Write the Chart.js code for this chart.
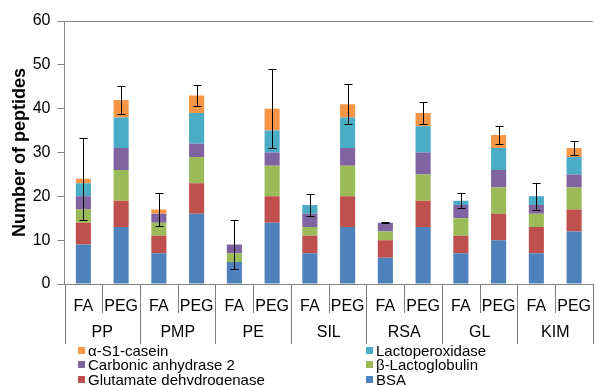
<!DOCTYPE html>
<html>
<head>
<meta charset="utf-8">
<script src="https://cdn.jsdelivr.net/npm/chart.js@4.4.0/dist/chart.umd.min.js"></script>
<style>
    html, body { margin: 0; padding: 0; background: #fff; overflow: hidden; }
    #wrap { position: relative; width: 596px; height: 385px; overflow: hidden; }
    #legend { position: absolute; left: 0; top: 0; font: 15px Arial, "Liberation Sans", sans-serif; color: #000; }
    .item { position: absolute; white-space: nowrap; line-height: 15px; height: 15px; }
    .item i { position: absolute; left: 0; top: 4px; width: 7px; height: 7px; }
    .item span { padding-left: 10px; }
</style>
</head>
<body>
<div id="wrap">
    <canvas id="peptideChart" width="596" height="385"></canvas>
    <div id="legend"></div>
</div>
<script>
/* ===== Datos del gráfico ===== */
const groups = ['PP', 'PMP', 'PE', 'SIL', 'RSA', 'GL', 'KIM'];
const subs = ['FA', 'PEG'];

// valores apilados (de abajo hacia arriba)
const bsa       = [9, 13, 7, 16, 5, 14, 7, 13, 6, 13, 7, 10, 7, 12];
const glutamate = [5, 6, 4, 7, 0, 6, 4, 7, 4, 6, 4, 6, 6, 5];
const lactoglob = [3, 7, 3, 6, 2, 7, 2, 7, 2, 6, 4, 6, 3, 5];
const carbonic  = [3, 5, 2, 3, 2, 3, 3, 4, 2, 5, 3, 4, 2, 3];
const lactoper  = [3, 7, 0, 7, 0, 5, 2, 7, 0, 6, 1, 5, 2, 4];
const casein    = [1, 4, 1, 4, 0, 5, 0, 3, 0, 3, 0, 3, 0, 2];

// barras de error (desviación sobre el total)
const errors = [9.4, 3.2, 3.7, 2.5, 5.5, 9, 2.6, 4.6, 0.1, 2.6, 1.7, 2.1, 3.1, 1.6];

const yTicks = [0, 10, 20, 30, 40, 50, 60];

const labels = [];
groups.forEach(() => subs.forEach(s => labels.push(s)));

const FONT = 'Arial, "Liberation Sans", sans-serif';
Chart.defaults.font.family = FONT;
Chart.defaults.color = '#000';

const series = [
    { label: 'BSA', data: bsa, color: '#4F81BD' },
    { label: 'Glutamate dehydrogenase', data: glutamate, color: '#C0504D' },
    { label: 'β-Lactoglobulin', data: lactoglob, color: '#9BBB59' },
    { label: 'Carbonic anhydrase 2', data: carbonic, color: '#8064A2' },
    { label: 'Lactoperoxidase', data: lactoper, color: '#4BACC6' },
    { label: 'α-S1-casein', data: casein, color: '#F79646' }
];

// Barras de error sobre el total de cada columna
const errorBarPlugin = {
    id: 'errorBars',
    afterDatasetsDraw(chart) {
        const { ctx, scales: { x, y } } = chart;
        ctx.save();
        ctx.strokeStyle = '#000';
        ctx.lineWidth = 1;
        errors.forEach((err, i) => {
            let total = 0;
            chart.data.datasets.forEach(ds => { total += ds.data[i]; });
            const px = Math.round(x.getPixelForValue(i)) + 0.5;
            const top = Math.round(y.getPixelForValue(total + err)) + 0.5;
            const bot = Math.round(y.getPixelForValue(total - err)) + 0.5;
            ctx.beginPath();
            ctx.moveTo(px, top); ctx.lineTo(px, bot);
            ctx.moveTo(px - 4, top); ctx.lineTo(px + 4, top);
            ctx.moveTo(px - 4, bot); ctx.lineTo(px + 4, bot);
            ctx.stroke();
        });
        ctx.restore();
    }
};

// Separadores y etiquetas del segundo nivel del eje X
const groupAxisPlugin = {
    id: 'groupAxis',
    afterDraw(chart) {
        const { ctx, chartArea, scales: { x } } = chart;
        const w = x.width / labels.length;
        ctx.save();
        ctx.strokeStyle = '#7f7f7f';
        ctx.lineWidth = 1;
        for (let i = 0; i <= labels.length; i++) {
            const px = Math.round(x.left + i * w) + 0.5;
            const isGroup = i % subs.length === 0;
            ctx.beginPath();
            ctx.moveTo(px, chartArea.bottom);
            ctx.lineTo(px, isGroup ? 344 : 313);
            ctx.stroke();
        }
        ctx.fillStyle = '#000';
        ctx.font = '16px ' + FONT;
        ctx.textAlign = 'center';
        ctx.textBaseline = 'middle';
        groups.forEach((g, k) => {
            ctx.fillText(g, x.left + (k * subs.length + subs.length / 2) * w, 333);
        });
        ctx.restore();
    }
};

const peptideChart = new Chart(document.getElementById('peptideChart'), {
    type: 'bar',
    data: {
        labels: labels,
        datasets: series.map(s => ({
            label: s.label,
            data: s.data,
            backgroundColor: s.color,
            borderWidth: 0,
            barPercentage: 0.4,
            categoryPercentage: 1
        }))
    },
    options: {
        responsive: false,
        animation: false,
        layout: { padding: { top: 21, right: 0, bottom: 0, left: 0 } },
        plugins: {
            legend: { display: false },
            tooltip: { enabled: false }
        },
        scales: {
            x: {
                stacked: true,
                afterFit(scale) { scale.height = 101; },
                grid: { display: false },
                border: { display: true, color: '#868686' },
                ticks: { font: { size: 16 }, padding: 5, maxRotation: 0, autoSkip: false }
            },
            y: {
                stacked: true,
                min: 0,
                max: 60,
                afterFit(scale) { scale.width = 64.5; },
                afterBuildTicks(scale) { scale.ticks = yTicks.map(v => ({ value: v })); },
                grid: {
                    color: ctx => (ctx.tick && ctx.tick.value === 60 ? '#868686' : 'rgba(0,0,0,0)'),
                    tickColor: '#868686',
                    tickLength: 7
                },
                border: { display: true, color: '#868686' },
                ticks: { font: { size: 16 }, padding: 7 },
                title: {
                    display: true,
                    text: 'Number of peptides',
                    font: { size: 18, weight: 'bold' },
                    padding: { top: 9, bottom: 0 }
                }
            }
        }
    },
    plugins: [errorBarPlugin, groupAxisPlugin]
});

// Leyenda HTML en dos columnas (orden inverso a la pila)
const legendEl = document.getElementById('legend');
const legendCols = [78, 366];
const legendRows = [350.5, 364.7, 379];
series.slice().reverse().forEach((s, k) => {
    const item = document.createElement('div');
    item.className = 'item';
    item.style.left = legendCols[k % 2] + 'px';
    item.style.top = (legendRows[Math.floor(k / 2)] - 7.5) + 'px';
    item.innerHTML = '<i style="background:' + s.color + '"></i><span></span>';
    item.querySelector('span').textContent = s.label;
    legendEl.appendChild(item);
});
</script>
</body>
</html>
